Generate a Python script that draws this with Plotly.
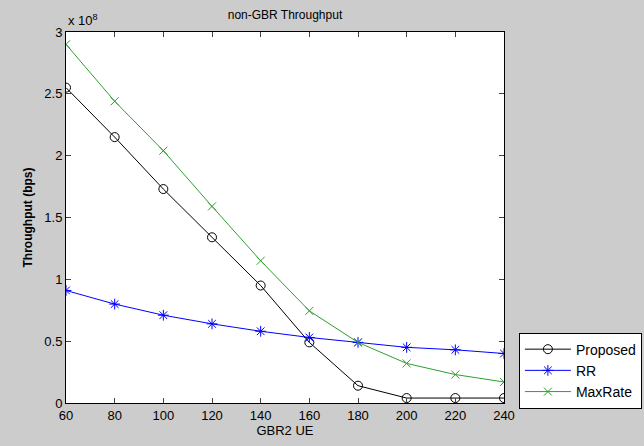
import plotly.graph_objects as go

gbr2_ue = [60, 80, 100, 120, 140, 160, 180, 200, 220, 240]
# throughput in units of 1e8 bps
proposed = [2.55, 2.15, 1.73, 1.34, 0.95, 0.49, 0.14, 0.04, 0.04, 0.04]
rr = [0.91, 0.80, 0.71, 0.64, 0.58, 0.53, 0.49, 0.45, 0.43, 0.40]
maxrate = [2.90, 2.44, 2.04, 1.59, 1.15, 0.745, 0.49, 0.32, 0.23, 0.17]
x_ticks = [60, 80, 100, 120, 140, 160, 180, 200, 220, 240]
y_ticks = [0, 0.5, 1, 1.5, 2, 2.5, 3]
y_tick_labels = ["0", "0.5", "1", "1.5", "2", "2.5", "3"]

FONT = "Liberation Sans, Arial, sans-serif"

fig = go.Figure()
fig.add_trace(go.Scatter(x=gbr2_ue, y=proposed, name="Proposed", mode="lines+markers",
                         line=dict(color="#000000", width=1),
                         marker=dict(symbol="circle-open", size=9, color="#000000", line=dict(width=1))))
fig.add_trace(go.Scatter(x=gbr2_ue, y=rr, name="RR", mode="lines+markers",
                         line=dict(color="#0000ff", width=1),
                         marker=dict(symbol="asterisk-open", size=9, color="#0000ff", line=dict(width=1))))
fig.add_trace(go.Scatter(x=gbr2_ue, y=maxrate, name="MaxRate", mode="lines+markers",
                         line=dict(color="#2ca02c", width=1),
                         marker=dict(symbol="x-thin-open", size=8, color="#2ca02c", line=dict(width=1))))

fig.update_layout(
    width=644, height=446,
    paper_bgcolor="#cccccc", plot_bgcolor="#ffffff",
    margin=dict(l=66, r=140, t=32, b=43, autoexpand=False),
    font=dict(family=FONT, size=13, color="#000000"),
    title=dict(text="non-GBR Throughput", x=0.4425, xanchor="center", y=0.967, yanchor="middle",
               font=dict(size=12)),
    showlegend=True,
    legend=dict(x=1.034, y=-0.015, xanchor="left", yanchor="bottom",
                bgcolor="#ffffff", bordercolor="#000000", borderwidth=1,
                font=dict(size=14), tracegroupgap=0, itemwidth=46),
    xaxis=dict(range=[60, 240], tickvals=x_ticks, ticks="inside", ticklen=5,
               showline=True, linecolor="#000000", linewidth=1, mirror="allticks",
               showgrid=False, zeroline=False, automargin=False,
               title=dict(text="GBR2 UE", standoff=4, font=dict(size=13))),
    yaxis=dict(range=[0, 3], tickvals=y_ticks, ticktext=y_tick_labels, ticks="inside", ticklen=5,
               showline=True, linecolor="#000000", linewidth=1, mirror="allticks",
               showgrid=False, zeroline=False, automargin=False,
               title=dict(text="<b>Throughput (bps)</b>", standoff=9, font=dict(size=12))),
    annotations=[dict(text="x 10<sup>8</sup>", xref="paper", yref="paper", x=0.0, y=1.0,
                      xanchor="left", yanchor="bottom", showarrow=False, font=dict(size=13),
                      yshift=2)],
)

fig.write_html("out.html", config={"displayModeBar": False},
               post_script="document.body.style.margin='0';document.body.style.overflow='hidden';")
